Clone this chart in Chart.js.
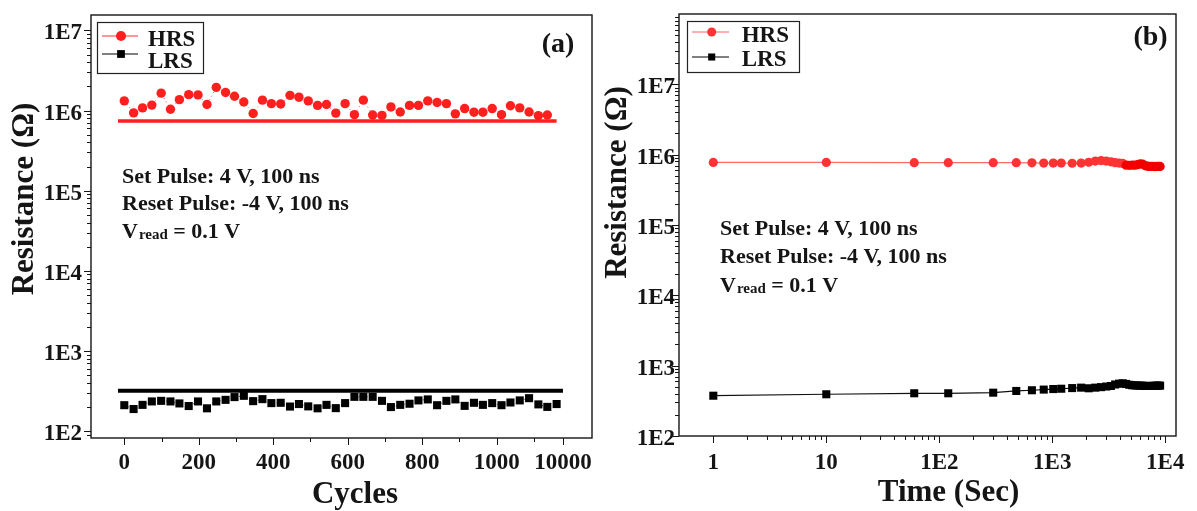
<!DOCTYPE html>
<html>
<head>
<meta charset="utf-8">
<title>HRS / LRS endurance and retention</title>
<script src="https://cdn.jsdelivr.net/npm/chart.js@4.4.1/dist/chart.umd.min.js"></script>
<style>
  body { margin: 0; background: #fff; }
  #wrap { position: relative; width: 1197px; height: 511px; }
  canvas { position: absolute; top: 0; }
  #chartA { left: 0; }
  #chartB { left: 600px; }
</style>
</head>
<body>
<div id="wrap">
  <canvas id="chartA" width="600" height="511"></canvas>
  <canvas id="chartB" width="597" height="511"></canvas>
</div>
<script>
// ---- panel (a): endurance ----
const cycles = [0, 25, 49, 74, 99, 124, 148, 173, 198, 222, 247, 272, 296, 321, 346, 371,
  395, 420, 445, 469, 494, 519, 543, 568, 593, 618, 642, 667, 692, 716, 741, 766,
  790, 815, 840, 865, 889, 914, 939, 963, 988, 1013, 1037, 1062, 1087, 1112, 1136, 1161];
const hrsCycle = [1.32e6, 9.35e5, 1.08e6, 1.17e6, 1.65e6, 1.04e6, 1.37e6, 1.58e6, 1.57e6, 1.19e6,
  1.95e6, 1.68e6, 1.51e6, 1.28e6, 9.2e5, 1.35e6, 1.22e6, 1.21e6, 1.55e6, 1.47e6,
  1.32e6, 1.16e6, 1.19e6, 9.3e5, 1.22e6, 8.9e5, 1.35e6, 8.8e5, 8.7e5, 1.11e6,
  9.6e5, 1.16e6, 1.16e6, 1.32e6, 1.26e6, 1.22e6, 9.1e5, 1.06e6, 9.55e5, 9.55e5,
  1.06e6, 8.9e5, 1.15e6, 1.08e6, 9.6e5, 8.65e5, 8.8e5];
const lrsCycle = [210, 188, 212, 234, 238, 234, 221, 205, 234, 192, 234, 245, 265, 275, 236, 250,
  223, 225, 202, 217, 203, 192, 212, 193, 223, 267, 267, 267, 238, 199, 212, 219,
  241, 248, 210, 238, 248, 206, 225, 212, 223, 210, 227, 241, 257, 215, 200, 217];
// reference levels drawn as straight lines
const hrsLevel = 7.4e5;
const lrsLevel = 318;
const hrsLevelX = [-17, 1161];
const lrsLevelX = [-17, 1178];

const cycleTicks = [0, 200, 400, 600, 800, 1000, 1178];
const cycleTickLabels = ['0', '200', '400', '600', '800', '1000', '10000'];
const cycleMinorTicks = [100, 300, 500, 700, 900, 1100];

// ---- panel (b): retention ----
const times = [1, 10, 60, 120, 300, 480, 660, 840, 1020, 1200, 1500, 1800, 2100, 2400, 2700, 3000,
  3300, 3600, 3900, 4200, 4500, 4800, 5100, 5400, 5700, 6000, 6300, 6600, 6900, 7200,
  7500, 7800, 8100, 8400, 8700, 9000];
const hrsTime = [7.75e5, 7.75e5, 7.7e5, 7.7e5, 7.7e5, 7.7e5, 7.65e5, 7.6e5, 7.6e5, 7.6e5,
  7.55e5, 7.6e5, 7.8e5, 8.1e5, 8.25e5, 8.1e5, 7.9e5, 7.7e5, 7.6e5, 7.5e5,
  7.1e5, 7.05e5, 7.1e5, 7.1e5, 7.2e5, 7.4e5, 7.35e5, 7.0e5, 6.85e5, 6.8e5,
  6.8e5, 6.8e5, 6.75e5, 6.8e5, 6.8e5, 6.8e5];
const lrsTime = [374, 392, 405, 405, 413, 437, 447, 457, 465, 470, 480, 487, 477, 487, 495, 505,
  514, 540, 555, 562, 550, 535, 526, 524, 522, 520, 520, 516, 514, 514, 516, 516,
  518, 520, 520, 520];
const timeTicks = [1, 10, 100, 1000, 10000];
const timeTickLabels = ['1', '10', '1E2', '1E3', '1E4'];

const resTicks = [1e2, 1e3, 1e4, 1e5, 1e6, 1e7];
const resTickLabels = ['1E2', '1E3', '1E4', '1E5', '1E6', '1E7'];

const noteLines = ['Set Pulse: 4 V, 100 ns', 'Reset Pulse: -4 V, 100 ns'];

const FONT = '"Liberation Serif", "Times New Roman", serif';
const INK = '#151515';

function logMinors(min, max) {
  let out = [];
  for (let e = Math.floor(Math.log10(min)); e <= Math.ceil(Math.log10(max)); e++) {
    for (let m = 2; m <= 9; m++) {
      let v = m * Math.pow(10, e);
      if (v > min && v < max) out.push(v);
    }
  }
  return out;
}

function toPoints(xs, ys) {
  return ys.map((y, i) => ({ x: xs[i], y: y }));
}

function drawMarker(ctx, style, x, y, r, color) {
  ctx.fillStyle = color;
  ctx.beginPath();
  if (style === 'rect') {
    let s = r * Math.SQRT1_2;
    ctx.rect(x - s, y - s, 2 * s, 2 * s);
  } else {
    ctx.arc(x, y, r, 0, Math.PI * 2);
  }
  ctx.fill();
}

// frame, minor/major ticks, legend and texts
const decor = {
  id: 'decor',
  afterDraw(chart, args, o) {
    const ctx = chart.ctx;
    const a = chart.chartArea;
    const sx = chart.scales.x, sy = chart.scales.y;
    const snap = v => Math.round(v) + 0.5;
    ctx.save();
    ctx.strokeStyle = INK;
    ctx.lineWidth = 1;
    ctx.beginPath();
    const xt = (vals, len) => vals.forEach(v => {
      let p = snap(sx.getPixelForValue(v));
      ctx.moveTo(p, a.bottom); ctx.lineTo(p, a.bottom + len);
    });
    const yt = (vals, len) => vals.forEach(v => {
      let p = snap(sy.getPixelForValue(v));
      ctx.moveTo(a.left, p); ctx.lineTo(a.left - len, p);
    });
    xt(o.xMajor, 7); xt(o.xMinor, 4);
    yt(o.yMajor, 7); yt(o.yMinor, 4);
    ctx.stroke();

    ctx.lineWidth = 1.4;
    ctx.strokeRect(a.left, a.top, a.right - a.left, a.bottom - a.top);

    // legend
    let lg = o.legend;
    ctx.lineWidth = 1.2;
    ctx.strokeStyle = '#222';
    ctx.strokeRect(snap(lg.box[0]), snap(lg.box[1]), lg.box[2], lg.box[3]);
    lg.items.forEach(it => {
      let ds = chart.data.datasets[it.ds];
      ctx.strokeStyle = it.line;
      ctx.lineWidth = 1;
      ctx.beginPath();
      ctx.moveTo(lg.lineX[0], it.y); ctx.lineTo(lg.lineX[1], it.y);
      ctx.stroke();
      drawMarker(ctx, ds.pointStyle, lg.markX, it.y, it.r, it.color);
      ctx.fillStyle = INK;
      ctx.font = 'bold 23px ' + FONT;
      ctx.textAlign = 'left';
      ctx.textBaseline = 'alphabetic';
      ctx.fillText(ds.label, lg.textX, it.textY);
    });

    // panel letter
    ctx.fillStyle = INK;
    ctx.font = 'bold 28px ' + FONT;
    ctx.textAlign = 'center';
    ctx.fillText(o.panel.text, o.panel.x, o.panel.y);

    // pulse notes
    ctx.textAlign = 'left';
    ctx.font = 'bold 22px ' + FONT;
    noteLines.forEach((s, i) => ctx.fillText(s, o.notes.x, o.notes.ys[i]));
    let x = o.notes.x, y = o.notes.ys[2];
    ctx.fillText('V', x, y);
    x += ctx.measureText('V').width + 1;
    ctx.font = 'bold 15px ' + FONT;
    ctx.fillText('read', x, y + 1);
    x += ctx.measureText('read').width;
    ctx.font = 'bold 22px ' + FONT;
    ctx.fillText(' = 0.1 V', x, y);

    // axis titles
    ctx.font = 'bold 31px ' + FONT;
    ctx.textAlign = 'center';
    ctx.fillText(o.xTitle.text, o.xTitle.x, o.xTitle.y);
    ctx.translate(o.yTitle.x, o.yTitle.y);
    ctx.rotate(-Math.PI / 2);
    ctx.fillText('Resistance (\u03A9)', 0, 0);
    ctx.restore();
  }
};

function tickFont() {
  return { family: FONT, size: 23, weight: 'bold' };
}

// ---- chart (a) ----
const minA = 81.8, maxA = 1.56e7;
new Chart(document.getElementById('chartA'), {
  type: 'scatter',
  data: {
    datasets: [
      {
        label: 'HRS', data: toPoints(cycles, hrsCycle), showLine: true,
        borderColor: 'rgba(255,40,40,0.8)', borderWidth: 1, borderDash: [1, 3],
        pointStyle: 'circle', pointRadius: 4.7, pointBackgroundColor: '#ff1f1f', pointBorderWidth: 0
      },
      {
        label: 'LRS', data: toPoints(cycles, lrsCycle), showLine: true,
        borderColor: 'rgba(0,0,0,0.7)', borderWidth: 1, borderDash: [1, 3],
        pointStyle: 'rect', pointRadius: 5.7, pointBackgroundColor: '#000', pointBorderWidth: 0
      },
      {
        label: 'HRS level', data: toPoints(hrsLevelX, [hrsLevel, hrsLevel]), showLine: true,
        borderColor: '#ff1f1f', borderWidth: 3.5, pointRadius: 0
      },
      {
        label: 'LRS level', data: toPoints(lrsLevelX, [lrsLevel, lrsLevel]), showLine: true,
        borderColor: '#000', borderWidth: 4, pointRadius: 0
      }
    ]
  },
  options: {
    responsive: false,
    animation: false,
    events: [],
    layout: { padding: { top: 15, right: 8, left: 0, bottom: 0 } },
    plugins: {
      legend: { display: false },
      tooltip: { enabled: false },
      decor: {
        xMajor: cycleTicks, xMinor: cycleMinorTicks,
        yMajor: resTicks, yMinor: logMinors(minA, maxA),
        legend: {
          box: [97, 22, 106, 51], lineX: [102, 138], markX: 121, textX: 148,
          items: [
            { ds: 0, y: 36, textY: 45.5, r: 5, color: '#ff1f1f', line: '#ff3030' },
            { ds: 1, y: 54, textY: 67.5, r: 5.5, color: '#000', line: '#000' }
          ]
        },
        panel: { text: '(a)', x: 558, y: 52 },
        notes: { x: 122, ys: [182.7, 210, 237.7] },
        xTitle: { text: 'Cycles', x: 355, y: 503 },
        yTitle: { x: 33, y: 199 }
      }
    },
    scales: {
      x: {
        type: 'linear', min: -89.4, max: 1256,
        afterFit: s => { s.height = 73; s.paddingLeft = 0; s.paddingRight = 0; },
        afterBuildTicks: s => { s.ticks = cycleTicks.map(v => ({ value: v })); },
        grid: { display: false, drawTicks: false },
        border: { display: false },
        ticks: {
          autoSkip: false, maxRotation: 0, padding: 11, color: INK, font: tickFont(),
          callback: (v, i) => cycleTickLabels[i]
        }
      },
      y: {
        type: 'logarithmic', min: minA, max: maxA,
        afterFit: s => { s.width = 91; s.paddingTop = 0; s.paddingBottom = 0; },
        afterBuildTicks: s => { s.ticks = resTicks.map(v => ({ value: v })); },
        grid: { display: false, drawTicks: false },
        border: { display: false },
        ticks: {
          autoSkip: false, padding: 9, labelOffset: 3, color: INK, font: tickFont(),
          callback: (v, i) => resTickLabels[i]
        }
      }
    }
  },
  plugins: [decor]
});

// ---- chart (b) ----
const minB = 100, maxB = 1e8;
const minT = 0.497, maxT = 12440;
new Chart(document.getElementById('chartB'), {
  type: 'scatter',
  data: {
    datasets: [
      {
        label: 'HRS', data: toPoints(times, hrsTime), showLine: true,
        borderColor: 'rgba(255,80,80,0.85)', borderWidth: 1.2,
        pointStyle: 'circle', pointRadius: 4.6, pointBorderWidth: 0,
        pointBackgroundColor: c => (times[c.dataIndex] >= 4500 ? '#f20000' : '#ff3333')
      },
      {
        label: 'LRS', data: toPoints(times, lrsTime), showLine: true,
        borderColor: '#111', borderWidth: 1.2,
        pointStyle: 'rect', pointRadius: 5.7, pointBackgroundColor: '#000', pointBorderWidth: 0
      }
    ]
  },
  options: {
    responsive: false,
    animation: false,
    events: [],
    layout: { padding: { top: 14, right: 21, left: 0, bottom: 0 } },
    plugins: {
      legend: { display: false },
      tooltip: { enabled: false },
      decor: {
        xMajor: timeTicks, xMinor: logMinors(minT, maxT).filter(v => v > 1 && v < 10000),
        yMajor: resTicks, yMinor: logMinors(minB, maxB),
        legend: {
          box: [87, 21, 112, 51], lineX: [92, 129], markX: 111.7, textX: 141.7,
          items: [
            { ds: 0, y: 32, textY: 41.7, r: 4.5, color: '#ff3333', line: '#ff6060' },
            { ds: 1, y: 57, textY: 65.7, r: 5, color: '#000', line: '#000' }
          ]
        },
        panel: { text: '(b)', x: 550.5, y: 45 },
        notes: { x: 120, ys: [235, 263.3, 291.7] },
        xTitle: { text: 'Time (Sec)', x: 348.5, y: 501 },
        yTitle: { x: 26, y: 182.5 }
      }
    },
    scales: {
      x: {
        type: 'logarithmic', min: minT, max: maxT,
        afterFit: s => { s.height = 75; s.paddingLeft = 0; s.paddingRight = 0; },
        afterBuildTicks: s => { s.ticks = timeTicks.map(v => ({ value: v })); },
        grid: { display: false, drawTicks: false },
        border: { display: false },
        ticks: {
          autoSkip: false, maxRotation: 0, padding: 13, color: INK, font: tickFont(),
          callback: (v, i) => timeTickLabels[i]
        }
      },
      y: {
        type: 'logarithmic', min: minB, max: maxB,
        afterFit: s => { s.width = 79; s.paddingTop = 0; s.paddingBottom = 0; },
        afterBuildTicks: s => { s.ticks = resTicks.map(v => ({ value: v })); },
        grid: { display: false, drawTicks: false },
        border: { display: false },
        ticks: {
          autoSkip: false, padding: 4, labelOffset: 3, color: INK, font: tickFont(),
          callback: (v, i) => resTickLabels[i]
        }
      }
    }
  },
  plugins: [decor]
});
</script>
</body>
</html>
